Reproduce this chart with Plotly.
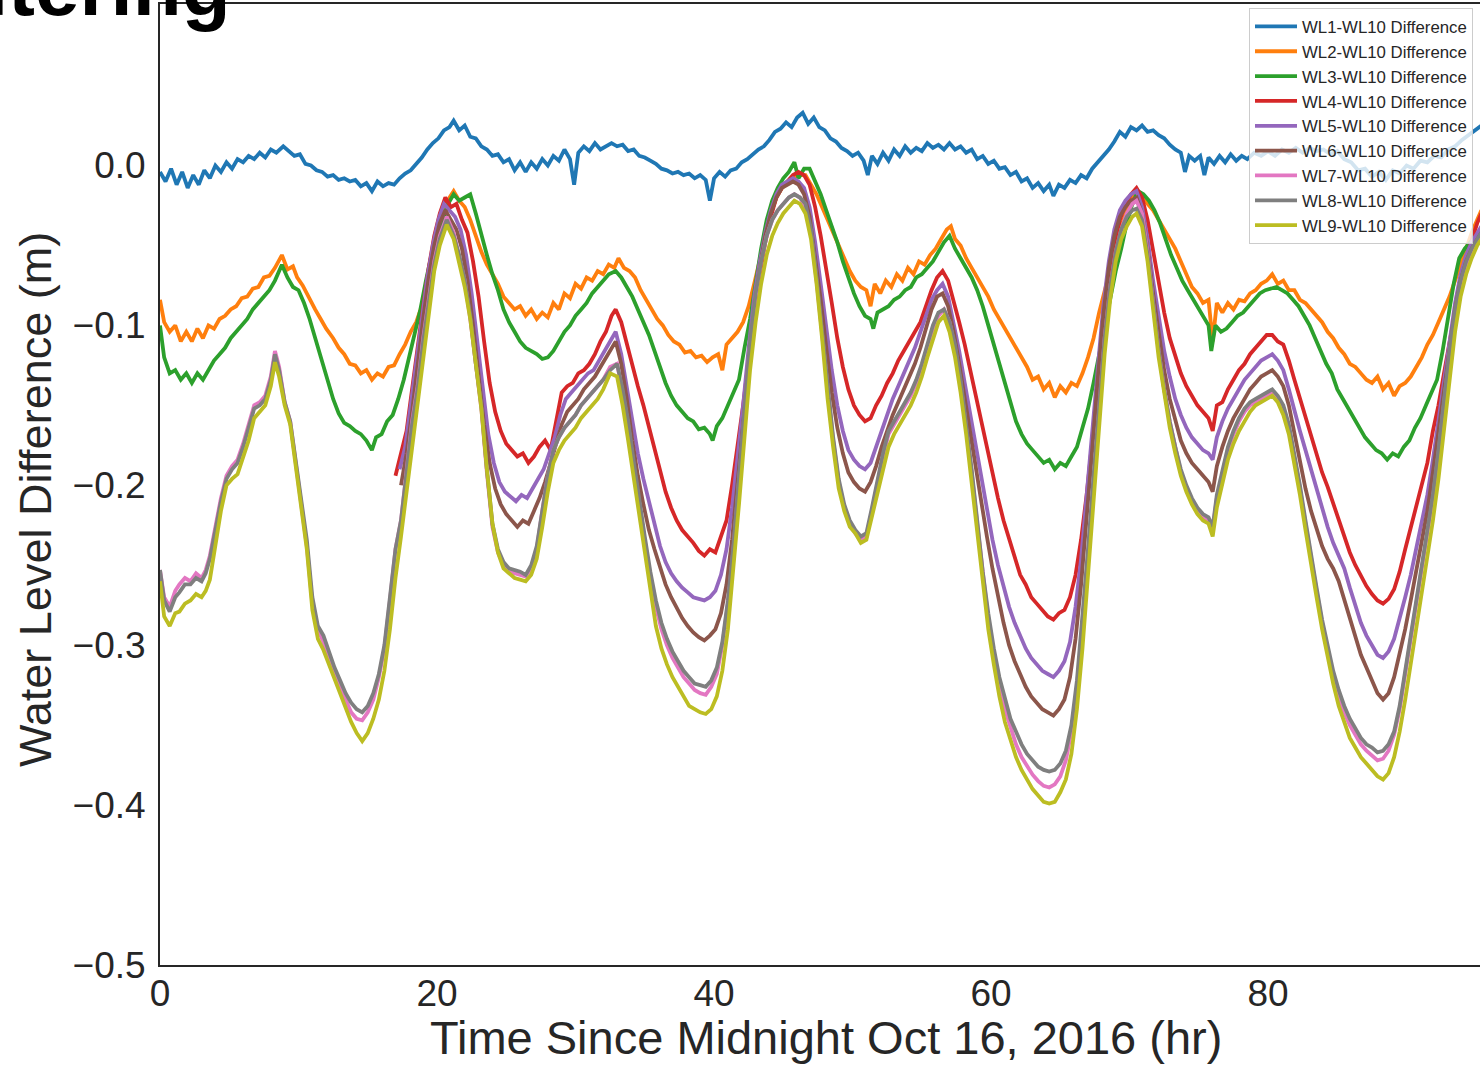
import plotly.graph_objects as go

# ---------------- data ----------------
SERIES_NAMES = [f"WL{i}-WL10 Difference" for i in range(1, 10)]
COLORS = ["#1f77b4", "#ff7f0e", "#2ca02c", "#d62728", "#9467bd",
          "#8c564b", "#e377c2", "#7f7f7f", "#bcbd22"]

X_TICKS = [0, 20, 40, 60, 80]
Y_TICKS = [-0.5, -0.4, -0.3, -0.2, -0.1, 0.0, 0.1]
Y_TICK_TEXT = ["\u22120.5", "\u22120.4", "\u22120.3", "\u22120.2", "\u22120.1", "0.0", "0.1"]

WL1 = [(0.0,-0.004),(0.4,-0.010),(0.8,-0.002),(1.2,-0.012),(1.6,-0.004),(2.0,-0.014),(2.4,-0.006),(2.8,-0.012),(3.2,-0.003),(3.6,-0.008),(4.0,0.000),(4.4,-0.004),(4.8,0.002),(5.2,-0.002),(5.6,0.004),(6.0,0.002),(6.4,0.006),(6.8,0.004),(7.2,0.008),(7.6,0.005),(8.0,0.010),(8.4,0.008),(8.9,0.012),(9.3,0.009),(9.7,0.006),(10.1,0.007),(10.5,0.001),(10.9,0.000),(11.3,-0.003),(11.7,-0.004),(12.1,-0.007),(12.5,-0.006),(12.9,-0.009),(13.3,-0.008),(13.7,-0.010),(14.1,-0.009),(14.5,-0.013),(14.9,-0.011),(15.3,-0.016),(15.7,-0.010),(16.1,-0.013),(16.5,-0.011),(16.9,-0.012),(17.3,-0.008),(17.7,-0.005),(18.1,-0.003),(18.5,0.001),(18.9,0.005),(19.3,0.010),(19.7,0.014),(20.1,0.017),(20.5,0.022),(20.9,0.024),(21.2,0.028),(21.6,0.022),(22.0,0.025),(22.4,0.018),(22.8,0.017),(23.2,0.012),(23.6,0.010),(24.0,0.006),(24.4,0.007),(24.8,0.002),(25.2,0.004),(25.6,-0.003),(26.0,0.002),(26.4,-0.004),(26.8,0.002),(27.2,-0.002),(27.6,0.004),(28.0,0.000),(28.4,0.006),(28.8,0.003),(29.2,0.010),(29.6,0.004),(29.9,-0.012),(30.2,0.008),(30.6,0.012),(31.0,0.009),(31.4,0.014),(31.8,0.010),(32.2,0.012),(32.6,0.014),(33.0,0.012),(33.4,0.013),(33.8,0.009),(34.2,0.010),(34.6,0.006),(35.0,0.005),(35.4,0.003),(35.8,0.001),(36.2,-0.002),(36.6,-0.003),(37.0,-0.005),(37.4,-0.004),(37.8,-0.006),(38.2,-0.005),(38.6,-0.008),(39.0,-0.006),(39.4,-0.009),(39.7,-0.022),(40.0,-0.008),(40.4,-0.004),(40.8,-0.007),(41.2,-0.003),(41.6,-0.002),(42.0,0.002),(42.4,0.004),(42.8,0.007),(43.2,0.010),(43.6,0.012),(44.0,0.016),(44.4,0.021),(44.8,0.023),(45.2,0.027),(45.6,0.024),(46.0,0.030),(46.4,0.033),(46.8,0.026),(47.2,0.030),(47.6,0.024),(48.0,0.022),(48.4,0.017),(48.8,0.015),(49.2,0.011),(49.6,0.009),(50.0,0.006),(50.4,0.008),(50.8,0.003),(51.1,-0.006),(51.4,0.006),(51.8,0.001),(52.2,0.008),(52.6,0.003),(53.0,0.010),(53.4,0.006),(53.8,0.012),(54.2,0.008),(54.6,0.011),(55.0,0.009),(55.4,0.014),(55.8,0.011),(56.2,0.013),(56.6,0.010),(57.0,0.014),(57.4,0.010),(57.8,0.012),(58.2,0.008),(58.6,0.010),(59.0,0.004),(59.4,0.006),(59.8,0.001),(60.2,0.003),(60.6,-0.002),(61.0,-0.001),(61.4,-0.006),(61.8,-0.004),(62.2,-0.010),(62.6,-0.008),(63.0,-0.014),(63.4,-0.011),(63.8,-0.016),(64.2,-0.012),(64.5,-0.019),(64.9,-0.012),(65.3,-0.014),(65.7,-0.009),(66.1,-0.011),(66.5,-0.006),(66.9,-0.008),(67.3,-0.002),(67.7,0.002),(68.1,0.006),(68.5,0.010),(68.9,0.015),(69.3,0.021),(69.7,0.018),(70.1,0.024),(70.5,0.022),(70.9,0.025),(71.3,0.021),(71.7,0.022),(72.1,0.019),(72.5,0.017),(72.9,0.013),(73.3,0.010),(73.7,0.008),(74.0,-0.004),(74.3,0.006),(74.7,0.003),(75.1,0.006),(75.4,-0.006),(75.7,0.005),(76.1,0.001),(76.5,0.006),(76.9,0.002),(77.3,0.007),(77.7,0.003),(78.1,0.006),(78.5,0.004),(79.0,0.008),(79.5,0.006),(80.0,0.009),(80.5,0.006),(81.0,0.010),(81.5,0.008),(82.0,0.011),(82.5,0.008),(83.0,0.011),(83.5,0.009),(84.0,0.010),(84.5,0.007),(85.0,0.009),(85.5,0.004),(86.0,0.002),(86.5,-0.003),(87.0,-0.002),(87.5,-0.007),(88.0,-0.004),(88.5,-0.009),(89.0,-0.003),(89.5,-0.005),(90.0,0.000),(90.5,-0.002),(91.0,0.003),(91.5,0.002),(92.0,0.006),(92.5,0.005),(93.0,0.010),(93.5,0.012),(94.0,0.016),(94.5,0.019),(95.0,0.022),(95.4,0.025)]

WL2 = [(0.0,-0.084),(0.3,-0.098),(0.7,-0.104),(1.1,-0.100),(1.5,-0.110),(1.9,-0.104),(2.3,-0.110),(2.7,-0.102),(3.1,-0.108),(3.5,-0.100),(3.9,-0.102),(4.3,-0.096),(4.7,-0.094),(5.1,-0.090),(5.5,-0.088),(5.9,-0.083),(6.3,-0.082),(6.7,-0.077),(7.1,-0.076),(7.5,-0.070),(7.9,-0.069),(8.3,-0.064),(8.8,-0.056),(9.2,-0.065),(9.6,-0.063),(9.9,-0.070),(10.3,-0.075),(10.8,-0.084),(11.2,-0.090),(11.6,-0.096),(12.0,-0.102),(12.5,-0.108),(12.9,-0.114),(13.3,-0.118),(13.7,-0.124),(14.1,-0.125),(14.5,-0.130),(14.9,-0.128),(15.3,-0.134),(15.7,-0.130),(16.1,-0.132),(16.5,-0.126),(16.9,-0.125),(17.3,-0.118),(17.7,-0.112),(18.1,-0.104),(18.5,-0.098),(18.9,-0.088),(19.3,-0.076),(19.7,-0.062),(20.1,-0.045),(20.5,-0.030),(20.9,-0.020),(21.2,-0.016),(21.6,-0.022),(22.0,-0.026),(22.4,-0.034),(22.8,-0.044),(23.2,-0.054),(23.6,-0.062),(24.0,-0.068),(24.4,-0.074),(24.8,-0.082),(25.2,-0.086),(25.6,-0.090),(26.0,-0.088),(26.4,-0.094),(26.8,-0.090),(27.2,-0.096),(27.6,-0.092),(28.0,-0.095),(28.4,-0.086),(28.8,-0.090),(29.2,-0.080),(29.6,-0.083),(30.0,-0.074),(30.4,-0.077),(30.8,-0.070),(31.2,-0.072),(31.6,-0.066),(32.0,-0.068),(32.4,-0.062),(32.8,-0.064),(33.1,-0.058),(33.5,-0.064),(33.9,-0.066),(34.3,-0.070),(34.7,-0.078),(35.1,-0.084),(35.5,-0.090),(35.9,-0.096),(36.3,-0.100),(36.7,-0.106),(37.1,-0.110),(37.5,-0.112),(37.9,-0.117),(38.3,-0.116),(38.7,-0.120),(39.1,-0.119),(39.5,-0.123),(39.9,-0.120),(40.3,-0.118),(40.6,-0.128),(40.9,-0.112),(41.3,-0.108),(41.7,-0.104),(42.1,-0.098),(42.5,-0.088),(42.9,-0.074),(43.3,-0.060),(43.7,-0.044),(44.1,-0.030),(44.5,-0.020),(44.9,-0.014),(45.3,-0.010),(45.7,-0.008),(46.1,-0.006),(46.6,-0.006),(47.0,-0.012),(47.4,-0.018),(47.8,-0.026),(48.2,-0.034),(48.6,-0.042),(49.0,-0.050),(49.4,-0.058),(49.8,-0.066),(50.2,-0.072),(50.6,-0.076),(51.0,-0.078),(51.3,-0.088),(51.6,-0.074),(52.0,-0.080),(52.4,-0.072),(52.8,-0.076),(53.2,-0.068),(53.6,-0.072),(54.0,-0.064),(54.4,-0.068),(54.8,-0.060),(55.2,-0.062),(55.6,-0.056),(56.0,-0.052),(56.4,-0.046),(56.8,-0.040),(57.1,-0.038),(57.4,-0.046),(57.8,-0.050),(58.2,-0.058),(58.6,-0.064),(59.0,-0.070),(59.4,-0.076),(59.8,-0.082),(60.2,-0.090),(60.6,-0.096),(61.0,-0.102),(61.4,-0.108),(61.8,-0.114),(62.2,-0.120),(62.6,-0.126),(63.0,-0.134),(63.4,-0.132),(63.8,-0.140),(64.2,-0.136),(64.6,-0.145),(65.0,-0.138),(65.4,-0.142),(65.8,-0.136),(66.2,-0.138),(66.6,-0.130),(67.0,-0.120),(67.4,-0.108),(67.8,-0.092),(68.2,-0.078),(68.6,-0.064),(69.0,-0.050),(69.4,-0.038),(69.8,-0.028),(70.2,-0.020),(70.5,-0.016),(70.9,-0.020),(71.3,-0.024),(71.7,-0.028),(72.1,-0.034),(72.5,-0.040),(72.9,-0.046),(73.3,-0.052),(73.7,-0.060),(74.1,-0.068),(74.5,-0.076),(74.9,-0.080),(75.3,-0.086),(75.7,-0.084),(76.0,-0.110),(76.3,-0.086),(76.7,-0.092),(77.1,-0.086),(77.5,-0.090),(77.9,-0.084),(78.3,-0.085),(78.7,-0.080),(79.1,-0.078),(79.5,-0.074),(79.9,-0.072),(80.3,-0.068),(80.7,-0.074),(81.1,-0.072),(81.5,-0.078),(81.9,-0.078),(82.3,-0.084),(82.7,-0.086),(83.1,-0.090),(83.5,-0.094),(83.9,-0.098),(84.3,-0.104),(84.7,-0.108),(85.1,-0.114),(85.5,-0.118),(85.9,-0.124),(86.3,-0.126),(86.7,-0.130),(87.1,-0.134),(87.5,-0.136),(87.9,-0.132),(88.3,-0.140),(88.7,-0.136),(89.1,-0.144),(89.5,-0.138),(89.9,-0.136),(90.3,-0.132),(90.7,-0.126),(91.1,-0.120),(91.5,-0.112),(91.9,-0.106),(92.3,-0.098),(92.7,-0.090),(93.1,-0.082),(93.5,-0.072),(93.9,-0.062),(94.3,-0.052),(94.7,-0.042),(95.1,-0.034),(95.4,-0.028)]

WL3 = [(0.0,-0.100),(0.3,-0.120),(0.7,-0.130),(1.1,-0.128),(1.5,-0.134),(1.9,-0.130),(2.3,-0.136),(2.7,-0.130),(3.1,-0.134),(3.5,-0.128),(3.9,-0.122),(4.3,-0.118),(4.7,-0.114),(5.1,-0.108),(5.5,-0.104),(5.9,-0.100),(6.3,-0.096),(6.7,-0.090),(7.1,-0.086),(7.5,-0.082),(7.9,-0.078),(8.3,-0.072),(8.8,-0.062),(9.2,-0.070),(9.6,-0.076),(10.0,-0.078),(10.4,-0.086),(10.8,-0.096),(11.2,-0.108),(11.6,-0.120),(12.0,-0.132),(12.5,-0.146),(12.9,-0.155),(13.3,-0.161),(13.7,-0.163),(14.1,-0.166),(14.5,-0.168),(14.9,-0.172),(15.3,-0.178),(15.6,-0.170),(16.0,-0.168),(16.4,-0.160),(16.8,-0.156),(17.2,-0.146),(17.6,-0.134),(18.0,-0.120),(18.4,-0.106),(18.8,-0.090),(19.2,-0.072),(19.6,-0.056),(20.0,-0.044),(20.4,-0.034),(20.8,-0.024),(21.2,-0.018),(21.6,-0.022),(22.0,-0.020),(22.4,-0.018),(22.8,-0.030),(23.2,-0.044),(23.6,-0.056),(24.0,-0.068),(24.4,-0.078),(24.8,-0.090),(25.2,-0.098),(25.6,-0.104),(26.0,-0.110),(26.4,-0.114),(26.8,-0.116),(27.2,-0.118),(27.6,-0.121),(28.0,-0.120),(28.4,-0.116),(28.8,-0.110),(29.2,-0.104),(29.6,-0.100),(30.0,-0.094),(30.4,-0.090),(30.8,-0.086),(31.2,-0.080),(31.6,-0.076),(32.0,-0.072),(32.4,-0.068),(32.9,-0.066),(33.3,-0.070),(33.7,-0.076),(34.1,-0.082),(34.5,-0.090),(34.9,-0.098),(35.3,-0.106),(35.7,-0.116),(36.1,-0.126),(36.5,-0.136),(36.9,-0.144),(37.3,-0.150),(37.7,-0.154),(38.1,-0.158),(38.5,-0.160),(38.9,-0.165),(39.3,-0.164),(39.7,-0.168),(39.9,-0.172),(40.2,-0.163),(40.6,-0.158),(41.0,-0.150),(41.4,-0.142),(41.8,-0.134),(42.2,-0.114),(42.6,-0.096),(43.0,-0.074),(43.4,-0.052),(43.8,-0.034),(44.2,-0.022),(44.6,-0.014),(45.0,-0.008),(45.4,-0.004),(45.8,0.002),(46.1,-0.008),(46.5,-0.002),(46.9,-0.002),(47.3,-0.010),(47.7,-0.018),(48.1,-0.028),(48.5,-0.038),(48.9,-0.048),(49.3,-0.060),(49.7,-0.070),(50.1,-0.080),(50.5,-0.088),(50.9,-0.094),(51.3,-0.096),(51.5,-0.102),(51.8,-0.092),(52.2,-0.090),(52.6,-0.088),(53.0,-0.084),(53.4,-0.082),(53.8,-0.078),(54.2,-0.076),(54.6,-0.070),(55.0,-0.068),(55.4,-0.064),(55.8,-0.060),(56.2,-0.054),(56.6,-0.048),(57.0,-0.044),(57.4,-0.052),(57.8,-0.058),(58.2,-0.064),(58.6,-0.070),(59.0,-0.078),(59.4,-0.088),(59.8,-0.100),(60.2,-0.112),(60.6,-0.124),(61.0,-0.136),(61.4,-0.150),(61.8,-0.160),(62.2,-0.168),(62.6,-0.174),(63.0,-0.178),(63.4,-0.182),(63.8,-0.186),(64.2,-0.184),(64.6,-0.190),(65.0,-0.186),(65.4,-0.188),(65.8,-0.182),(66.2,-0.176),(66.6,-0.164),(67.0,-0.152),(67.4,-0.136),(67.8,-0.118),(68.2,-0.100),(68.6,-0.082),(69.0,-0.066),(69.4,-0.052),(69.8,-0.036),(70.2,-0.024),(70.6,-0.016),(71.0,-0.018),(71.4,-0.022),(71.8,-0.028),(72.2,-0.036),(72.6,-0.046),(73.0,-0.056),(73.4,-0.064),(73.8,-0.072),(74.2,-0.078),(74.6,-0.084),(75.0,-0.090),(75.4,-0.096),(75.7,-0.100),(75.9,-0.116),(76.2,-0.100),(76.6,-0.104),(77.0,-0.102),(77.4,-0.098),(77.8,-0.094),(78.2,-0.092),(78.6,-0.088),(79.0,-0.084),(79.4,-0.080),(79.8,-0.078),(80.2,-0.077),(80.6,-0.076),(81.0,-0.078),(81.4,-0.080),(81.8,-0.084),(82.2,-0.088),(82.6,-0.094),(83.0,-0.100),(83.4,-0.108),(83.8,-0.116),(84.2,-0.124),(84.6,-0.130),(85.0,-0.140),(85.4,-0.146),(85.8,-0.152),(86.2,-0.158),(86.6,-0.164),(87.0,-0.170),(87.4,-0.174),(87.8,-0.178),(88.2,-0.180),(88.6,-0.184),(89.0,-0.180),(89.4,-0.182),(89.8,-0.176),(90.2,-0.172),(90.6,-0.164),(91.0,-0.158),(91.4,-0.150),(91.8,-0.142),(92.2,-0.134),(92.6,-0.116),(93.0,-0.096),(93.4,-0.074),(93.8,-0.058),(94.2,-0.052),(94.6,-0.048),(95.0,-0.044),(95.4,-0.040)]

WL4 = [(17.0,-0.194),(17.4,-0.180),(17.8,-0.166),(18.2,-0.140),(18.6,-0.112),(19.0,-0.088),(19.4,-0.064),(19.8,-0.044),(20.2,-0.030),(20.6,-0.020),(21.0,-0.026),(21.4,-0.024),(21.8,-0.034),(22.2,-0.042),(22.6,-0.060),(23.0,-0.082),(23.4,-0.110),(23.8,-0.136),(24.2,-0.154),(24.6,-0.166),(25.0,-0.174),(25.4,-0.178),(25.8,-0.182),(26.2,-0.180),(26.6,-0.186),(27.0,-0.182),(27.4,-0.176),(27.8,-0.172),(28.2,-0.178),(28.6,-0.160),(29.0,-0.142),(29.4,-0.138),(29.8,-0.136),(30.2,-0.130),(30.6,-0.128),(31.0,-0.124),(31.4,-0.118),(31.8,-0.110),(32.2,-0.104),(32.6,-0.094),(32.9,-0.090),(33.3,-0.098),(33.7,-0.112),(34.1,-0.126),(34.5,-0.138),(34.9,-0.150),(35.3,-0.164),(35.7,-0.178),(36.1,-0.192),(36.5,-0.204),(36.9,-0.214),(37.3,-0.222),(37.7,-0.228),(38.1,-0.232),(38.5,-0.236),(38.9,-0.241),(39.3,-0.244),(39.7,-0.240),(40.1,-0.242),(40.5,-0.232),(40.9,-0.222),(41.3,-0.200),(41.7,-0.176),(42.1,-0.150),(42.5,-0.122),(42.9,-0.092),(43.3,-0.068),(43.7,-0.048),(44.1,-0.032),(44.5,-0.020),(44.9,-0.014),(45.3,-0.010),(45.7,-0.006),(46.1,-0.004),(46.5,-0.006),(46.9,-0.012),(47.3,-0.026),(47.7,-0.044),(48.1,-0.064),(48.5,-0.086),(48.9,-0.108),(49.3,-0.126),(49.7,-0.140),(50.1,-0.150),(50.5,-0.156),(50.9,-0.160),(51.3,-0.158),(51.7,-0.150),(52.1,-0.144),(52.5,-0.136),(52.9,-0.130),(53.3,-0.122),(53.7,-0.116),(54.1,-0.110),(54.5,-0.104),(54.9,-0.098),(55.3,-0.088),(55.7,-0.078),(56.1,-0.070),(56.5,-0.066),(56.9,-0.072),(57.3,-0.084),(57.7,-0.098),(58.1,-0.112),(58.5,-0.128),(58.9,-0.144),(59.3,-0.160),(59.7,-0.178),(60.1,-0.194),(60.5,-0.208),(60.9,-0.222),(61.3,-0.234),(61.7,-0.246),(62.1,-0.256),(62.5,-0.262),(62.9,-0.270),(63.3,-0.274),(63.7,-0.278),(64.1,-0.282),(64.5,-0.284),(64.9,-0.280),(65.3,-0.278),(65.7,-0.270),(66.1,-0.256),(66.5,-0.234),(66.9,-0.206),(67.3,-0.174),(67.7,-0.140),(68.1,-0.106),(68.5,-0.074),(68.9,-0.050),(69.3,-0.034),(69.7,-0.024),(70.1,-0.018),(70.5,-0.014),(70.9,-0.020),(71.3,-0.034),(71.7,-0.054),(72.1,-0.074),(72.5,-0.092),(72.9,-0.108),(73.3,-0.120),(73.7,-0.130),(74.1,-0.138),(74.5,-0.144),(74.9,-0.150),(75.3,-0.154),(75.7,-0.158),(76.0,-0.166),(76.3,-0.150),(76.7,-0.148),(77.1,-0.140),(77.5,-0.134),(77.9,-0.128),(78.3,-0.124),(78.7,-0.118),(79.1,-0.114),(79.5,-0.110),(79.9,-0.106),(80.3,-0.106),(80.7,-0.110),(81.1,-0.112),(81.5,-0.122),(81.9,-0.134),(82.3,-0.146),(82.7,-0.158),(83.1,-0.170),(83.5,-0.182),(83.9,-0.192),(84.3,-0.201),(84.7,-0.211),(85.1,-0.222),(85.5,-0.232),(85.9,-0.242),(86.3,-0.250),(86.7,-0.257),(87.1,-0.263),(87.5,-0.268),(87.9,-0.272),(88.3,-0.274),(88.7,-0.271),(89.1,-0.265),(89.5,-0.254),(89.9,-0.240),(90.3,-0.226),(90.7,-0.214),(91.1,-0.200),(91.5,-0.186),(91.9,-0.166),(92.3,-0.150),(92.7,-0.130),(93.1,-0.110),(93.5,-0.090),(93.9,-0.072),(94.3,-0.058),(94.7,-0.046),(95.1,-0.036),(95.4,-0.030)]

WL5 = [(17.3,-0.190),(17.7,-0.176),(18.1,-0.150),(18.5,-0.122),(18.9,-0.094),(19.3,-0.070),(19.7,-0.050),(20.1,-0.034),(20.5,-0.024),(20.9,-0.028),(21.3,-0.032),(21.7,-0.040),(22.1,-0.056),(22.5,-0.080),(22.9,-0.110),(23.3,-0.142),(23.7,-0.168),(24.1,-0.186),(24.5,-0.198),(24.9,-0.204),(25.3,-0.207),(25.7,-0.210),(26.1,-0.206),(26.5,-0.208),(26.9,-0.202),(27.3,-0.196),(27.7,-0.190),(28.1,-0.180),(28.5,-0.170),(28.9,-0.156),(29.3,-0.146),(29.7,-0.142),(30.1,-0.138),(30.5,-0.134),(30.9,-0.130),(31.3,-0.128),(31.7,-0.122),(32.1,-0.116),(32.5,-0.110),(32.9,-0.104),(33.3,-0.118),(33.7,-0.138),(34.1,-0.160),(34.5,-0.180),(34.9,-0.196),(35.3,-0.210),(35.7,-0.225),(36.1,-0.238),(36.5,-0.248),(36.9,-0.255),(37.3,-0.260),(37.7,-0.264),(38.1,-0.267),(38.5,-0.270),(38.9,-0.271),(39.3,-0.272),(39.7,-0.270),(40.1,-0.266),(40.5,-0.256),(40.9,-0.240),(41.3,-0.214),(41.7,-0.184),(42.1,-0.150),(42.5,-0.114),(42.9,-0.082),(43.3,-0.060),(43.7,-0.042),(44.1,-0.028),(44.5,-0.018),(44.9,-0.012),(45.3,-0.010),(45.7,-0.008),(46.1,-0.010),(46.5,-0.014),(46.9,-0.026),(47.3,-0.048),(47.7,-0.074),(48.1,-0.102),(48.5,-0.128),(48.9,-0.150),(49.3,-0.166),(49.7,-0.178),(50.1,-0.184),(50.5,-0.188),(50.9,-0.190),(51.3,-0.186),(51.7,-0.176),(52.1,-0.166),(52.5,-0.156),(52.9,-0.146),(53.3,-0.138),(53.7,-0.130),(54.1,-0.122),(54.5,-0.114),(54.9,-0.104),(55.3,-0.094),(55.7,-0.084),(56.1,-0.078),(56.5,-0.074),(56.9,-0.082),(57.3,-0.098),(57.7,-0.116),(58.1,-0.136),(58.5,-0.156),(58.9,-0.176),(59.3,-0.196),(59.7,-0.216),(60.1,-0.234),(60.5,-0.250),(60.9,-0.264),(61.3,-0.276),(61.7,-0.286),(62.1,-0.294),(62.5,-0.302),(62.9,-0.308),(63.3,-0.312),(63.7,-0.316),(64.1,-0.318),(64.5,-0.320),(64.9,-0.316),(65.3,-0.310),(65.7,-0.298),(66.1,-0.276),(66.5,-0.246),(66.9,-0.208),(67.3,-0.168),(67.7,-0.126),(68.1,-0.088),(68.5,-0.060),(68.9,-0.040),(69.3,-0.028),(69.7,-0.022),(70.1,-0.018),(70.5,-0.016),(70.9,-0.026),(71.3,-0.046),(71.7,-0.072),(72.1,-0.096),(72.5,-0.116),(72.9,-0.132),(73.3,-0.146),(73.7,-0.156),(74.1,-0.164),(74.5,-0.170),(74.9,-0.174),(75.3,-0.178),(75.7,-0.180),(76.0,-0.184),(76.3,-0.170),(76.7,-0.160),(77.1,-0.152),(77.5,-0.146),(77.9,-0.140),(78.3,-0.134),(78.7,-0.130),(79.1,-0.126),(79.5,-0.122),(79.9,-0.120),(80.3,-0.118),(80.7,-0.122),(81.1,-0.128),(81.5,-0.140),(81.9,-0.154),(82.3,-0.166),(82.7,-0.178),(83.1,-0.190),(83.5,-0.204),(83.9,-0.216),(84.3,-0.226),(84.7,-0.236),(85.1,-0.244),(85.5,-0.252),(85.9,-0.264),(86.3,-0.276),(86.7,-0.286),(87.1,-0.294),(87.5,-0.300),(87.9,-0.306),(88.3,-0.308),(88.7,-0.304),(89.1,-0.296),(89.5,-0.284),(89.9,-0.270),(90.3,-0.256),(90.7,-0.240),(91.1,-0.224),(91.5,-0.206),(91.9,-0.184),(92.3,-0.160),(92.7,-0.134),(93.1,-0.108),(93.5,-0.086),(93.9,-0.068),(94.3,-0.056),(94.7,-0.048),(95.1,-0.042),(95.4,-0.038)]

WL6 = [(17.4,-0.200),(17.8,-0.180),(18.2,-0.154),(18.6,-0.124),(19.0,-0.096),(19.4,-0.070),(19.8,-0.050),(20.2,-0.036),(20.6,-0.028),(21.0,-0.034),(21.4,-0.040),(21.8,-0.052),(22.2,-0.072),(22.6,-0.100),(23.0,-0.132),(23.4,-0.162),(23.8,-0.186),(24.2,-0.202),(24.6,-0.212),(25.0,-0.218),(25.4,-0.222),(25.8,-0.226),(26.2,-0.222),(26.6,-0.224),(27.0,-0.216),(27.4,-0.208),(27.8,-0.198),(28.2,-0.186),(28.6,-0.174),(29.0,-0.162),(29.4,-0.154),(29.8,-0.150),(30.2,-0.146),(30.6,-0.140),(31.0,-0.136),(31.4,-0.132),(31.8,-0.126),(32.2,-0.120),(32.6,-0.114),(32.9,-0.110),(33.3,-0.124),(33.7,-0.146),(34.1,-0.172),(34.5,-0.194),(34.9,-0.212),(35.3,-0.228),(35.7,-0.240),(36.1,-0.252),(36.5,-0.262),(36.9,-0.270),(37.3,-0.277),(37.7,-0.283),(38.1,-0.288),(38.5,-0.292),(38.9,-0.295),(39.3,-0.297),(39.7,-0.294),(40.1,-0.290),(40.5,-0.280),(40.9,-0.262),(41.3,-0.234),(41.7,-0.200),(42.1,-0.162),(42.5,-0.124),(42.9,-0.090),(43.3,-0.064),(43.7,-0.044),(44.1,-0.030),(44.5,-0.020),(44.9,-0.014),(45.3,-0.012),(45.7,-0.010),(46.1,-0.012),(46.5,-0.018),(46.9,-0.032),(47.3,-0.056),(47.7,-0.084),(48.1,-0.114),(48.5,-0.142),(48.9,-0.164),(49.3,-0.180),(49.7,-0.192),(50.1,-0.198),(50.5,-0.202),(50.9,-0.204),(51.3,-0.198),(51.7,-0.188),(52.1,-0.176),(52.5,-0.166),(52.9,-0.156),(53.3,-0.148),(53.7,-0.140),(54.1,-0.132),(54.5,-0.124),(54.9,-0.114),(55.3,-0.102),(55.7,-0.090),(56.1,-0.082),(56.5,-0.080),(56.9,-0.088),(57.3,-0.104),(57.7,-0.124),(58.1,-0.146),(58.5,-0.168),(58.9,-0.190),(59.3,-0.212),(59.7,-0.232),(60.1,-0.252),(60.5,-0.270),(60.9,-0.286),(61.3,-0.300),(61.7,-0.310),(62.1,-0.318),(62.5,-0.326),(62.9,-0.332),(63.3,-0.336),(63.7,-0.340),(64.1,-0.342),(64.5,-0.344),(64.9,-0.340),(65.3,-0.334),(65.7,-0.320),(66.1,-0.296),(66.5,-0.262),(66.9,-0.222),(67.3,-0.178),(67.7,-0.134),(68.1,-0.094),(68.5,-0.064),(68.9,-0.044),(69.3,-0.032),(69.7,-0.026),(70.1,-0.022),(70.5,-0.020),(70.9,-0.030),(71.3,-0.052),(71.7,-0.080),(72.1,-0.106),(72.5,-0.128),(72.9,-0.146),(73.3,-0.160),(73.7,-0.172),(74.1,-0.180),(74.5,-0.186),(74.9,-0.190),(75.3,-0.194),(75.7,-0.198),(76.0,-0.204),(76.3,-0.188),(76.7,-0.176),(77.1,-0.166),(77.5,-0.158),(77.9,-0.152),(78.3,-0.146),(78.7,-0.140),(79.1,-0.136),(79.5,-0.132),(79.9,-0.130),(80.3,-0.128),(80.7,-0.132),(81.1,-0.138),(81.5,-0.150),(81.9,-0.168),(82.3,-0.186),(82.7,-0.202),(83.1,-0.216),(83.5,-0.228),(83.9,-0.238),(84.3,-0.246),(84.7,-0.252),(85.1,-0.260),(85.5,-0.272),(85.9,-0.284),(86.3,-0.296),(86.7,-0.306),(87.1,-0.314),(87.5,-0.322),(87.9,-0.330),(88.3,-0.334),(88.7,-0.330),(89.1,-0.320),(89.5,-0.306),(89.9,-0.290),(90.3,-0.272),(90.7,-0.254),(91.1,-0.236),(91.5,-0.216),(91.9,-0.192),(92.3,-0.166),(92.7,-0.140),(93.1,-0.112),(93.5,-0.090),(93.9,-0.072),(94.3,-0.060),(94.7,-0.052),(95.1,-0.046),(95.4,-0.042)]

WL7 = [(0,-0.253),(0.3,-0.270),(0.7,-0.276),(1.1,-0.266),(1.4,-0.262),(1.8,-0.258),(2.2,-0.260),(2.6,-0.255),(3.0,-0.258),(3.3,-0.253),(3.6,-0.244),(4.0,-0.226),(4.4,-0.208),(4.8,-0.194),(5.2,-0.188),(5.6,-0.184),(6.0,-0.174),(6.4,-0.162),(6.8,-0.150),(7.2,-0.148),(7.6,-0.144),(8.0,-0.132),(8.3,-0.116),(8.6,-0.126),(9.0,-0.148),(9.4,-0.160),(9.8,-0.186),(10.2,-0.212),(10.6,-0.238),(11.0,-0.274),(11.4,-0.290),(11.8,-0.298),(12.2,-0.308),(12.6,-0.318),(13.0,-0.326),(13.4,-0.334),(13.8,-0.342),(14.2,-0.346),(14.6,-0.347),(15.0,-0.342),(15.4,-0.334),(15.8,-0.320),(16.2,-0.302),(16.6,-0.272),(17.0,-0.240),(17.4,-0.222),(17.8,-0.190),(18.2,-0.160),(18.6,-0.138),(19.0,-0.108),(19.4,-0.084),(19.8,-0.060),(20.2,-0.044),(20.7,-0.032),(21.2,-0.042),(21.6,-0.056),(22.0,-0.072),(22.4,-0.096),(22.8,-0.126),(23.2,-0.152),(23.6,-0.192),(24.0,-0.226),(24.4,-0.242),(24.8,-0.250),(25.2,-0.254),(25.6,-0.255),(26.0,-0.256),(26.4,-0.257),(26.8,-0.252),(27.2,-0.240),(27.6,-0.216),(28.0,-0.194),(28.4,-0.178),(28.8,-0.170),(29.2,-0.164),(29.6,-0.160),(30.0,-0.156),(30.4,-0.150),(30.8,-0.146),(31.2,-0.142),(31.6,-0.138),(32.0,-0.134),(32.5,-0.126),(33.0,-0.124),(33.4,-0.142),(33.8,-0.162),(34.2,-0.188),(34.6,-0.212),(35.0,-0.236),(35.4,-0.258),(35.8,-0.276),(36.2,-0.290),(36.6,-0.300),(37.0,-0.308),(37.4,-0.314),(37.8,-0.320),(38.2,-0.324),(38.6,-0.328),(39.0,-0.330),(39.4,-0.331),(39.8,-0.326),(40.2,-0.318),(40.6,-0.300),(41.0,-0.274),(41.4,-0.240),(41.8,-0.198),(42.2,-0.152),(42.6,-0.112),(43.0,-0.082),(43.4,-0.060),(43.8,-0.044),(44.2,-0.034),(44.6,-0.028),(45.0,-0.024),(45.4,-0.020),(45.8,-0.018),(46.2,-0.020),(46.6,-0.026),(47.0,-0.042),(47.4,-0.072),(47.8,-0.106),(48.2,-0.142),(48.6,-0.172),(49.0,-0.198),(49.4,-0.214),(49.8,-0.224),(50.2,-0.230),(50.6,-0.234),(51.0,-0.232),(51.4,-0.216),(51.8,-0.198),(52.2,-0.182),(52.6,-0.168),(53.0,-0.162),(53.4,-0.156),(53.8,-0.150),(54.2,-0.144),(54.6,-0.136),(55.0,-0.126),(55.4,-0.114),(55.8,-0.102),(56.2,-0.094),(56.6,-0.090),(57.0,-0.098),(57.4,-0.114),(57.8,-0.136),(58.2,-0.162),(58.6,-0.192),(59.0,-0.224),(59.4,-0.256),(59.8,-0.284),(60.2,-0.306),(60.6,-0.326),(61.0,-0.340),(61.4,-0.352),(61.8,-0.362),(62.2,-0.370),(62.6,-0.376),(63.0,-0.381),(63.4,-0.385),(63.8,-0.388),(64.2,-0.389),(64.6,-0.387),(65.0,-0.382),(65.4,-0.372),(65.8,-0.354),(66.2,-0.326),(66.6,-0.288),(67.0,-0.244),(67.4,-0.198),(67.8,-0.150),(68.2,-0.108),(68.6,-0.076),(69.0,-0.054),(69.4,-0.040),(69.8,-0.030),(70.2,-0.024),(70.5,-0.022),(70.9,-0.030),(71.3,-0.054),(71.7,-0.086),(72.1,-0.116),(72.5,-0.140),(72.9,-0.160),(73.3,-0.176),(73.7,-0.192),(74.1,-0.202),(74.5,-0.210),(74.9,-0.216),(75.3,-0.220),(75.7,-0.222),(76.0,-0.228),(76.3,-0.208),(76.7,-0.192),(77.1,-0.178),(77.5,-0.168),(77.9,-0.160),(78.3,-0.154),(78.7,-0.150),(79.1,-0.148),(79.5,-0.146),(79.9,-0.144),(80.3,-0.142),(80.7,-0.146),(81.1,-0.152),(81.5,-0.164),(81.9,-0.182),(82.3,-0.202),(82.7,-0.224),(83.1,-0.246),(83.5,-0.266),(83.9,-0.286),(84.3,-0.304),(84.7,-0.320),(85.1,-0.332),(85.5,-0.342),(85.9,-0.350),(86.3,-0.356),(86.7,-0.362),(87.1,-0.366),(87.5,-0.369),(87.9,-0.372),(88.3,-0.371),(88.7,-0.366),(89.1,-0.356),(89.5,-0.340),(89.9,-0.318),(90.3,-0.296),(90.7,-0.274),(91.1,-0.254),(91.5,-0.232),(91.9,-0.208),(92.3,-0.180),(92.7,-0.148),(93.1,-0.118),(93.5,-0.092),(93.9,-0.074),(94.3,-0.062),(94.7,-0.054),(95.1,-0.048),(95.4,-0.044)]

WL8 = [(0,-0.253),(0.3,-0.272),(0.7,-0.279),(1.1,-0.270),(1.4,-0.267),(1.8,-0.262),(2.2,-0.262),(2.6,-0.258),(3.0,-0.260),(3.3,-0.255),(3.6,-0.246),(4.0,-0.228),(4.4,-0.210),(4.8,-0.196),(5.2,-0.190),(5.6,-0.186),(6.0,-0.176),(6.4,-0.164),(6.8,-0.152),(7.2,-0.150),(7.6,-0.146),(8.0,-0.134),(8.3,-0.118),(8.6,-0.128),(9.0,-0.148),(9.4,-0.160),(9.8,-0.184),(10.2,-0.210),(10.6,-0.234),(11.0,-0.270),(11.4,-0.288),(11.8,-0.294),(12.2,-0.304),(12.6,-0.314),(13.0,-0.322),(13.4,-0.330),(13.8,-0.336),(14.2,-0.340),(14.6,-0.342),(15.0,-0.338),(15.4,-0.330),(15.8,-0.318),(16.2,-0.300),(16.6,-0.270),(17.0,-0.240),(17.4,-0.222),(17.8,-0.192),(18.2,-0.162),(18.6,-0.140),(19.0,-0.110),(19.4,-0.086),(19.8,-0.062),(20.2,-0.046),(20.7,-0.034),(21.2,-0.044),(21.6,-0.056),(22.0,-0.072),(22.4,-0.094),(22.8,-0.124),(23.2,-0.150),(23.6,-0.190),(24.0,-0.224),(24.4,-0.240),(24.8,-0.248),(25.2,-0.252),(25.6,-0.253),(26.0,-0.254),(26.4,-0.256),(26.8,-0.250),(27.2,-0.238),(27.6,-0.214),(28.0,-0.194),(28.4,-0.178),(28.8,-0.170),(29.2,-0.164),(29.6,-0.160),(30.0,-0.156),(30.4,-0.150),(30.8,-0.146),(31.2,-0.142),(31.6,-0.138),(32.0,-0.134),(32.5,-0.128),(33.0,-0.124),(33.4,-0.140),(33.8,-0.160),(34.2,-0.185),(34.6,-0.210),(35.0,-0.232),(35.4,-0.254),(35.8,-0.272),(36.2,-0.286),(36.6,-0.296),(37.0,-0.304),(37.4,-0.310),(37.8,-0.316),(38.2,-0.320),(38.6,-0.324),(39.0,-0.325),(39.4,-0.326),(39.8,-0.322),(40.2,-0.314),(40.6,-0.298),(41.0,-0.272),(41.4,-0.238),(41.8,-0.196),(42.2,-0.150),(42.6,-0.110),(43.0,-0.080),(43.4,-0.060),(43.8,-0.044),(44.2,-0.034),(44.6,-0.028),(45.0,-0.024),(45.4,-0.020),(45.8,-0.018),(46.2,-0.020),(46.6,-0.024),(47.0,-0.040),(47.4,-0.070),(47.8,-0.104),(48.2,-0.140),(48.6,-0.170),(49.0,-0.196),(49.4,-0.212),(49.8,-0.222),(50.2,-0.228),(50.6,-0.232),(51.0,-0.230),(51.4,-0.214),(51.8,-0.196),(52.2,-0.180),(52.6,-0.166),(53.0,-0.160),(53.4,-0.154),(53.8,-0.148),(54.2,-0.142),(54.6,-0.134),(55.0,-0.124),(55.4,-0.112),(55.8,-0.100),(56.2,-0.092),(56.6,-0.090),(57.0,-0.098),(57.4,-0.112),(57.8,-0.134),(58.2,-0.160),(58.6,-0.190),(59.0,-0.222),(59.4,-0.254),(59.8,-0.280),(60.2,-0.302),(60.6,-0.320),(61.0,-0.334),(61.4,-0.346),(61.8,-0.354),(62.2,-0.362),(62.6,-0.368),(63.0,-0.372),(63.4,-0.376),(63.8,-0.378),(64.2,-0.379),(64.6,-0.378),(65.0,-0.374),(65.4,-0.366),(65.8,-0.350),(66.2,-0.322),(66.6,-0.284),(67.0,-0.240),(67.4,-0.194),(67.8,-0.148),(68.2,-0.108),(68.6,-0.076),(69.0,-0.054),(69.4,-0.040),(69.8,-0.032),(70.2,-0.028),(70.5,-0.027),(70.9,-0.034),(71.3,-0.056),(71.7,-0.086),(72.1,-0.116),(72.5,-0.140),(72.9,-0.160),(73.3,-0.176),(73.7,-0.190),(74.1,-0.200),(74.5,-0.208),(74.9,-0.214),(75.3,-0.218),(75.7,-0.220),(76.0,-0.226),(76.3,-0.206),(76.7,-0.190),(77.1,-0.176),(77.5,-0.166),(77.9,-0.158),(78.3,-0.152),(78.7,-0.148),(79.1,-0.146),(79.5,-0.144),(79.9,-0.142),(80.3,-0.140),(80.7,-0.144),(81.1,-0.150),(81.5,-0.162),(81.9,-0.180),(82.3,-0.200),(82.7,-0.222),(83.1,-0.244),(83.5,-0.264),(83.9,-0.284),(84.3,-0.300),(84.7,-0.316),(85.1,-0.328),(85.5,-0.338),(85.9,-0.346),(86.3,-0.352),(86.7,-0.358),(87.1,-0.362),(87.5,-0.364),(87.9,-0.367),(88.3,-0.366),(88.7,-0.362),(89.1,-0.354),(89.5,-0.338),(89.9,-0.316),(90.3,-0.294),(90.7,-0.272),(91.1,-0.252),(91.5,-0.230),(91.9,-0.206),(92.3,-0.178),(92.7,-0.146),(93.1,-0.116),(93.5,-0.090),(93.9,-0.072),(94.3,-0.060),(94.7,-0.052),(95.1,-0.046),(95.4,-0.042)]

WL9 = [(0,-0.260),(0.3,-0.282),(0.7,-0.288),(1.1,-0.280),(1.4,-0.279),(1.8,-0.274),(2.2,-0.272),(2.6,-0.268),(3.0,-0.270),(3.3,-0.266),(3.6,-0.259),(4.0,-0.236),(4.4,-0.216),(4.8,-0.200),(5.2,-0.196),(5.6,-0.193),(6.0,-0.182),(6.4,-0.172),(6.8,-0.158),(7.2,-0.154),(7.6,-0.150),(8.0,-0.138),(8.3,-0.123),(8.6,-0.132),(9.0,-0.150),(9.4,-0.162),(9.8,-0.188),(10.2,-0.214),(10.6,-0.240),(11.0,-0.278),(11.4,-0.296),(11.8,-0.303),(12.2,-0.312),(12.6,-0.320),(13.0,-0.330),(13.4,-0.338),(13.8,-0.348),(14.2,-0.355),(14.6,-0.360),(15.0,-0.355),(15.4,-0.346),(15.8,-0.334),(16.2,-0.316),(16.6,-0.290),(17.0,-0.258),(17.4,-0.232),(17.8,-0.204),(18.2,-0.176),(18.6,-0.150),(19.0,-0.118),(19.4,-0.092),(19.8,-0.066),(20.2,-0.050),(20.7,-0.037),(21.2,-0.046),(21.6,-0.060),(22.0,-0.076),(22.4,-0.096),(22.8,-0.126),(23.2,-0.152),(23.6,-0.190),(24.0,-0.224),(24.4,-0.242),(24.8,-0.252),(25.2,-0.255),(25.6,-0.258),(26.0,-0.259),(26.4,-0.260),(26.8,-0.256),(27.2,-0.246),(27.6,-0.226),(28.0,-0.204),(28.4,-0.186),(28.8,-0.178),(29.2,-0.172),(29.6,-0.168),(30.0,-0.164),(30.4,-0.158),(30.8,-0.154),(31.2,-0.150),(31.6,-0.146),(32.0,-0.140),(32.5,-0.130),(33.0,-0.132),(33.4,-0.150),(33.8,-0.172),(34.2,-0.196),(34.6,-0.216),(35.0,-0.240),(35.4,-0.264),(35.8,-0.288),(36.2,-0.302),(36.6,-0.312),(37.0,-0.320),(37.4,-0.326),(37.8,-0.333),(38.2,-0.338),(38.6,-0.340),(39.0,-0.342),(39.4,-0.343),(39.8,-0.340),(40.2,-0.332),(40.6,-0.316),(41.0,-0.290),(41.4,-0.254),(41.8,-0.212),(42.2,-0.170),(42.6,-0.128),(43.0,-0.098),(43.4,-0.074),(43.8,-0.056),(44.2,-0.044),(44.6,-0.036),(45.0,-0.030),(45.4,-0.026),(45.8,-0.022),(46.2,-0.024),(46.6,-0.030),(47.0,-0.046),(47.4,-0.074),(47.8,-0.108),(48.2,-0.146),(48.6,-0.176),(49.0,-0.202),(49.4,-0.216),(49.8,-0.226),(50.2,-0.230),(50.6,-0.236),(51.0,-0.234),(51.4,-0.220),(51.8,-0.204),(52.2,-0.190),(52.6,-0.176),(53.0,-0.168),(53.4,-0.162),(53.8,-0.156),(54.2,-0.150),(54.6,-0.142),(55.0,-0.132),(55.4,-0.120),(55.8,-0.108),(56.2,-0.098),(56.6,-0.094),(57.0,-0.104),(57.4,-0.120),(57.8,-0.142),(58.2,-0.168),(58.6,-0.198),(59.0,-0.230),(59.4,-0.262),(59.8,-0.290),(60.2,-0.312),(60.6,-0.332),(61.0,-0.348),(61.4,-0.360),(61.8,-0.370),(62.2,-0.378),(62.6,-0.384),(63.0,-0.390),(63.4,-0.394),(63.8,-0.398),(64.2,-0.399),(64.6,-0.398),(65.0,-0.392),(65.4,-0.384),(65.8,-0.368),(66.2,-0.340),(66.6,-0.302),(67.0,-0.256),(67.4,-0.208),(67.8,-0.160),(68.2,-0.118),(68.6,-0.084),(69.0,-0.060),(69.4,-0.046),(69.8,-0.038),(70.2,-0.032),(70.5,-0.030),(70.9,-0.038),(71.3,-0.060),(71.7,-0.090),(72.1,-0.120),(72.5,-0.142),(72.9,-0.164),(73.3,-0.180),(73.7,-0.194),(74.1,-0.204),(74.5,-0.212),(74.9,-0.218),(75.3,-0.222),(75.7,-0.224),(76.0,-0.232),(76.3,-0.214),(76.7,-0.198),(77.1,-0.184),(77.5,-0.174),(77.9,-0.166),(78.3,-0.160),(78.7,-0.154),(79.1,-0.150),(79.5,-0.148),(79.9,-0.146),(80.3,-0.144),(80.7,-0.148),(81.1,-0.156),(81.5,-0.168),(81.9,-0.186),(82.3,-0.206),(82.7,-0.228),(83.1,-0.250),(83.5,-0.270),(83.9,-0.290),(84.3,-0.308),(84.7,-0.324),(85.1,-0.338),(85.5,-0.348),(85.9,-0.358),(86.3,-0.364),(86.7,-0.370),(87.1,-0.374),(87.5,-0.378),(87.9,-0.382),(88.3,-0.384),(88.7,-0.380),(89.1,-0.370),(89.5,-0.354),(89.9,-0.334),(90.3,-0.312),(90.7,-0.290),(91.1,-0.268),(91.5,-0.246),(91.9,-0.222),(92.3,-0.196),(92.7,-0.164),(93.1,-0.132),(93.5,-0.104),(93.9,-0.082),(94.3,-0.068),(94.7,-0.058),(95.1,-0.050),(95.4,-0.046)]

SERIES = [WL1, WL2, WL3, WL4, WL5, WL6, WL7, WL8, WL9]

X_TITLE = "Time Since Midnight Oct 16, 2016 (hr)"
Y_TITLE = "Water Level Difference (m)"
FIG_TITLE = "Filtering"

# ---------------- figure ----------------
FONT = "Liberation Sans, Arial, Helvetica, sans-serif"
TXT = "#262626"
W, H = 1480, 1065
ML, MR, MT, MB = 160, 0, 4, 100
PW, PH = W - ML - MR, H - MT - MB

fig = go.Figure()
for name, color, pts in zip(SERIES_NAMES, COLORS, SERIES):
    xs = [p[0] for p in pts]
    ys = [p[1] for p in pts]
    fig.add_trace(go.Scatter(x=xs, y=ys, mode="lines", name=name,
                             line=dict(color=color, width=3.8)))

fig.update_layout(
    width=W, height=H,
    margin=dict(l=ML, r=MR, t=MT, b=MB, pad=0),
    paper_bgcolor="white", plot_bgcolor="white",
    font=dict(family=FONT, color=TXT),
    showlegend=True,
    legend=dict(
        x=(1249 - ML) / PW, y=1 - 4 / PH, xanchor="left", yanchor="top",
        bgcolor="rgba(255,255,255,0.8)", bordercolor="#cccccc", borderwidth=1,
        font=dict(family=FONT, size=16.8, color=TXT),
        itemwidth=42, tracegroupgap=0,
    ),
    annotations=[
        dict(text="<b>" + FIG_TITLE + "</b>", xref="paper", yref="paper",
             x=0, y=1, xanchor="right", yanchor="bottom",
             xshift=73, yshift=-30, showarrow=False,
             font=dict(family=FONT, size=80, color="black")),
        dict(text=X_TITLE, xref="paper", yref="paper",
             x=(826 - ML) / PW, y=(H - MB - 1037) / PH,
             xanchor="center", yanchor="middle", showarrow=False,
             font=dict(family=FONT, size=47, color=TXT)),
        dict(text=Y_TITLE, xref="paper", yref="paper",
             x=(35 - ML) / PW, y=(H - MB - 500) / PH, textangle=-90,
             xanchor="center", yanchor="middle", showarrow=False,
             font=dict(family=FONT, size=45, color=TXT)),
    ],
)

fig.update_xaxes(
    range=[0, 95.3], tickvals=X_TICKS, ticktext=[str(v) for v in X_TICKS],
    showgrid=False, zeroline=False, showline=True, linecolor=TXT, linewidth=2,
    mirror=True, ticks="", ticklabelstandoff=-5,
    tickfont=dict(family=FONT, size=37, color=TXT),
)
fig.update_yaxes(
    range=[-0.5, 0.101], tickvals=Y_TICKS, ticktext=Y_TICK_TEXT,
    showgrid=False, zeroline=False, showline=True, linecolor=TXT, linewidth=2,
    ticks="", ticklabelstandoff=5,
    tickfont=dict(family=FONT, size=37, color=TXT),
)

fig.write_html("out.html")
